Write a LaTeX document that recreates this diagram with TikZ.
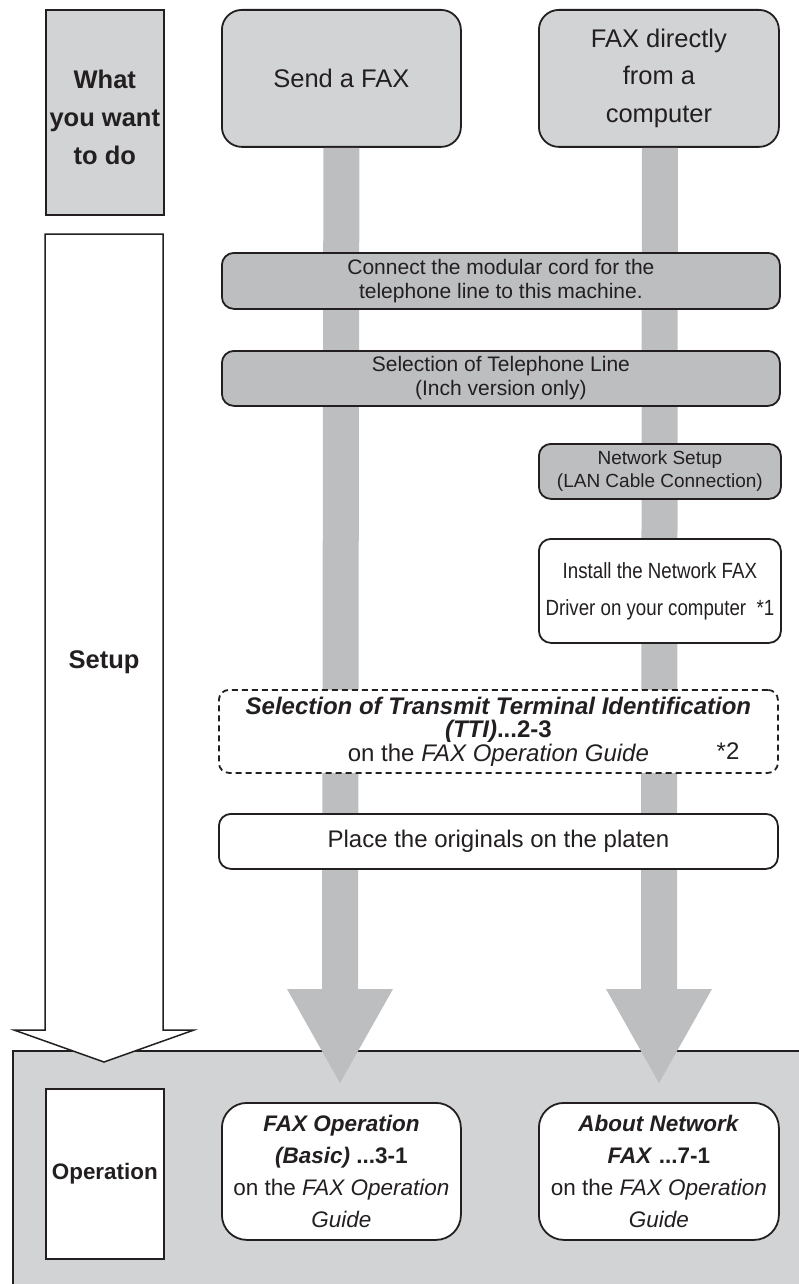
\documentclass[tikz,border=0pt]{standalone}
\usepackage{fontspec}
\setmainfont{Liberation Sans}
\newfontfamily\narrowfont[FakeStretch=0.85]{Liberation Sans}
\definecolor{lightg}{HTML}{D1D3D4}
\definecolor{barg}{HTML}{BCBEC0}
\definecolor{edge}{HTML}{231F20}
\begin{document}
\begin{tikzpicture}[x=1pt,y=-1pt,
  every node/.style={text=edge},
  rbox/.style={draw=edge, line width=1.8pt, rounded corners=#1, anchor=north west, inner sep=0pt, align=center},
  rbox/.default=12pt,
  sqbox/.style={draw=edge, line width=1.6pt, anchor=north west, inner sep=0pt, align=center},
  bar/.style={fill=barg, draw=none},
  f25/.style={font=\fontsize{25.5}{37.7}\selectfont},
  f21/.style={font=\fontsize{21}{24}\selectfont},
  f19/.style={font=\fontsize{19}{23}\selectfont},
  f23/.style={font=\fontsize{24}{23.5}\selectfont},
  f22/.style={font=\fontsize{22.5}{32}\selectfont},
]
\useasboundingbox (0,0) rectangle (798,1284);

% bottom panel
\fill[lightg] (13,1051) rectangle (805,1290);
\draw[edge, line width=1.6pt] (13,1290) -- (13,1051) -- (805,1051);

% top boxes
\node[sqbox, fill=lightg, minimum width=118pt, minimum height=205pt] (what) at (45,9) {};
\node[f25, align=center] (whattext) at ([yshift=-5pt]what.center) {\textbf{What}\\\textbf{you want}\\\textbf{to do}};
\node[rbox=20pt, fill=lightg, minimum width=239pt, minimum height=137pt, f25] (send) at (221,9) {Send a FAX};
\node[rbox=20pt, fill=lightg, minimum width=240pt, minimum height=137pt, f25] (direct) at (538,9) {FAX directly\\from a\\computer};

% gray flow bars with arrow heads
\coordinate (headL) at (340,989);
\coordinate (tipL) at (340,1083);
\coordinate (headR) at (659,989);
\coordinate (tipR) at (659,1083);
\fill[bar] ([xshift=-18pt]send.south) -- ([xshift=18pt]send.south) -- ([xshift=18pt]headL) -- ([xshift=53pt]headL) -- (tipL) -- ([xshift=-53pt]headL) -- ([xshift=-18pt]headL) -- cycle;
\fill[bar] ([xshift=-17pt]direct.south) -- ([xshift=19pt]direct.south) -- ([xshift=18pt]headR) -- ([xshift=53pt]headR) -- (tipR) -- ([xshift=-53pt]headR) -- ([xshift=-18pt]headR) -- cycle;

% setup steps
\node[rbox, fill=barg, minimum width=558pt, minimum height=56pt, f21] (connect) at (221,252) {Connect the modular cord for the\\telephone line to this machine.};
\node[rbox, fill=barg, minimum width=558pt, minimum height=55pt, f21] (telsel) at (221,350) {Selection of Telephone Line\\(Inch version only)};
\node[rbox, fill=barg, minimum width=242pt, minimum height=55pt, f19] (netsetup) at (538,443) {Network Setup\\(LAN Cable Connection)};
\node[rbox, fill=white, minimum width=242pt, minimum height=104pt, font=\narrowfont\fontsize{22}{37}\selectfont] (install) at (538,538) {Install the Network FAX\\Driver on your computer\ \ *1};
\node[rbox=10pt, dash pattern=on 6pt off 4pt, fill=white, minimum width=559pt, minimum height=83pt, f23] (tti) at (218,689) {\textbf{\textit{Selection of Transmit Terminal Identification}}\\\textbf{\textit{(TTI)}...2-3}\\on the \textit{FAX Operation Guide}};
\node[f23, anchor=base] (star2) at (728,759) {*2};
\node[rbox, fill=white, minimum width=559pt, minimum height=55pt, f23] (place) at (218,813) {Place the originals on the platen};

% setup white arrow
\coordinate (setuptip) at (104,1062);
\filldraw[fill=white, draw=edge, line width=1.5pt, line join=miter] (45,234) -- (163,234) -- (163,1030) -- (194,1030) -- (setuptip) -- (14,1030) -- (45,1030) -- cycle;
\node[font=\fontsize{25.5}{30}\selectfont\bfseries] (setup) at (104,662) {Setup};

% operation row
\node[sqbox, fill=white, minimum width=118pt, minimum height=170pt, font=\fontsize{22.4}{27}\selectfont\bfseries] (oper) at (45,1088) {Operation};
\node[rbox=25pt, fill=white, minimum width=239pt, minimum height=137pt, f22] (faxop) at (221,1102) {\textbf{\textit{FAX Operation}}\\\textbf{\textit{(Basic)} ...3-1}\\on the \textit{FAX Operation}\\\textit{Guide}};
\node[rbox=25pt, fill=white, minimum width=240pt, minimum height=137pt, f22] (aboutnet) at (538,1102) {\textbf{\textit{About Network}}\\\textbf{\textit{FAX} ...7-1}\\on the \textit{FAX Operation}\\\textit{Guide}};
\end{tikzpicture}
\end{document}
